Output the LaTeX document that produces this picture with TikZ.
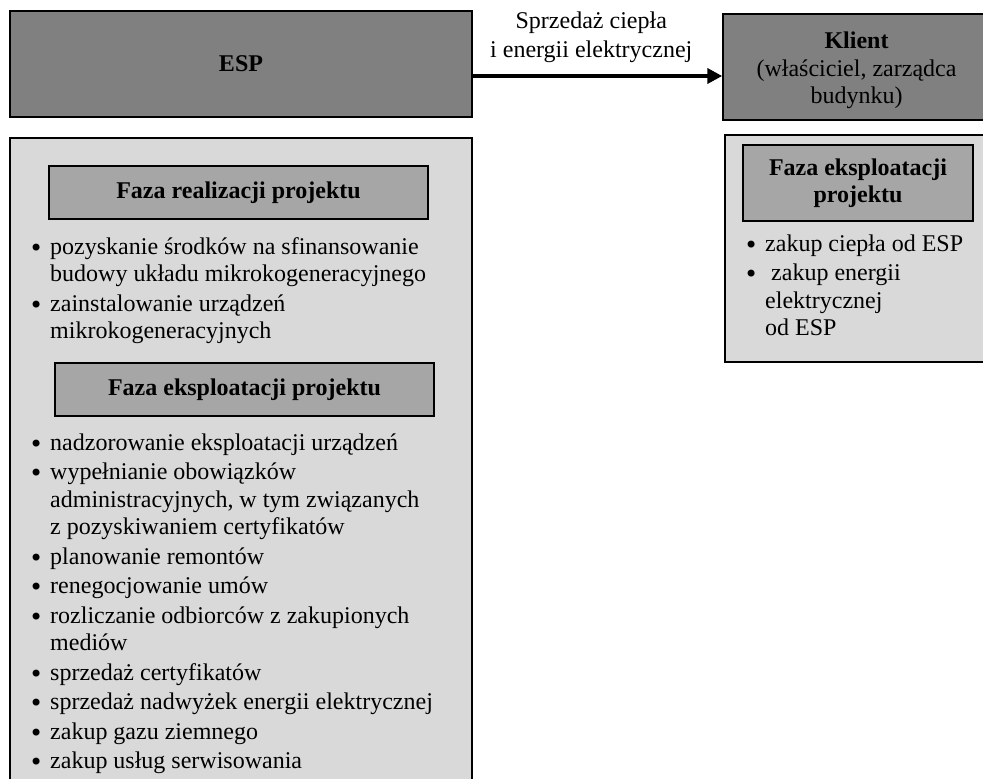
\documentclass[tikz,border=0pt]{standalone}
\usepackage{fontspec}
\setmainfont{Liberation Serif}
\newfontfamily\kropfont{DejaVu Sans}
\usetikzlibrary{arrows.meta}
\definecolor{espgray}{HTML}{808080}
\definecolor{panelgray}{HTML}{D9D9D9}
\definecolor{phasegray}{HTML}{A6A6A6}
\newcommand{\blt}{\makebox[18pt][l]{\hspace*{-3pt}\raisebox{-2pt}{\kropfont •}}}
\newcommand{\dalej}{\hspace*{18pt}}
\begin{document}
\begin{tikzpicture}[x = 1pt, y = -1pt,
		darkbox/.style = {draw, fill = espgray, line width = 1.5pt, inner sep = 0pt},
		phasebox/.style = {draw, fill = phasegray, line width = 1.5pt, inner sep = 0pt, font = \fontsize{24}{27.5}\selectfont\bfseries},
		lista/.style = {anchor = north west, align = left, inner sep = 0pt, font = \fontsize{24}{27.5}\selectfont}]
		\useasboundingbox (0, 0) rectangle (983, 779);
		%%%%%%%%%%%%%
		\filldraw[fill = panelgray, draw = black, line width = 1.5pt] (10, 138) rectangle (472, 790);
		\filldraw[fill = panelgray, draw = black, line width = 1.5pt] (725, 135) rectangle (995, 362);
		%%%%%%%%%%%%%
		\node[darkbox, minimum width = 462, minimum height = 106, font = \fontsize{24}{27.5}\selectfont\bfseries] (esp) at (241, 64) {ESP};
		\node[darkbox, minimum width = 267, minimum height = 106, align = center, font = \fontsize{24}{27.5}\selectfont] (klient) at (856.5, 67) {\rule{0pt}{24pt}\textbf{Klient}\\(właściciel, zarządca\\budynku)};
		\node[phasebox, minimum width = 379, minimum height = 53] (realizacja) at (238.5, 192.5) {Faza realizacji projektu};
		\node[phasebox, minimum width = 379, minimum height = 53] (eksploatacja) at (244.5, 389.5) {Faza eksploatacji projektu};
		\node[phasebox, minimum width = 230, minimum height = 76, align = center] (eksklient) at (858, 183) {Faza eksploatacji\\projektu};
		%%%%%%%%%%%%%
		\node[lista] (zadreal) at (32, 235) {\strut\blt pozyskanie środków na sfinansowanie\\
			\dalej budowy układu mikrokogeneracyjnego\\[2pt]
			\blt zainstalowanie urządzeń\\
			\dalej mikrokogeneracyjnych};
		\node[lista] (zadeks) at (32, 430.75) {\strut\blt nadzorowanie eksploatacji urządzeń\\[2pt]
			\blt wypełnianie obowiązków\\
			\dalej administracyjnych, w tym związanych\\
			\dalej z pozyskiwaniem certyfikatów\\[2pt]
			\blt planowanie remontów\\[2pt]
			\blt renegocjowanie umów\\[2pt]
			\blt rozliczanie odbiorców z zakupionych\\
			\dalej mediów\\[2pt]
			\blt sprzedaż certyfikatów\\[2pt]
			\blt sprzedaż nadwyżek energii elektrycznej\\[2pt]
			\blt zakup gazu ziemnego\\[2pt]
			\blt zakup usług serwisowania};
		\node[lista] (zadklient) at (747, 231.75) {\strut\blt zakup ciepła od ESP\\[2pt]
			\blt\hspace*{6pt}zakup energii\\
			\dalej elektrycznej\\
			\dalej od ESP};
		%%%%%%%%%%%%%
		\draw[line width = 4pt, -{Triangle[length = 15pt, width = 15pt]}] ([yshift = -12pt]esp.east) -- ([yshift = -9pt]klient.west)
			node[pos = 0.475, above = 8pt, align = center, font = \fontsize{24}{28.5}\selectfont] (sprzedaz) {Sprzedaż ciepła\\i energii elektrycznej};
		%%%%%%%%%%%%%%
	\end{tikzpicture}
\end{document}
